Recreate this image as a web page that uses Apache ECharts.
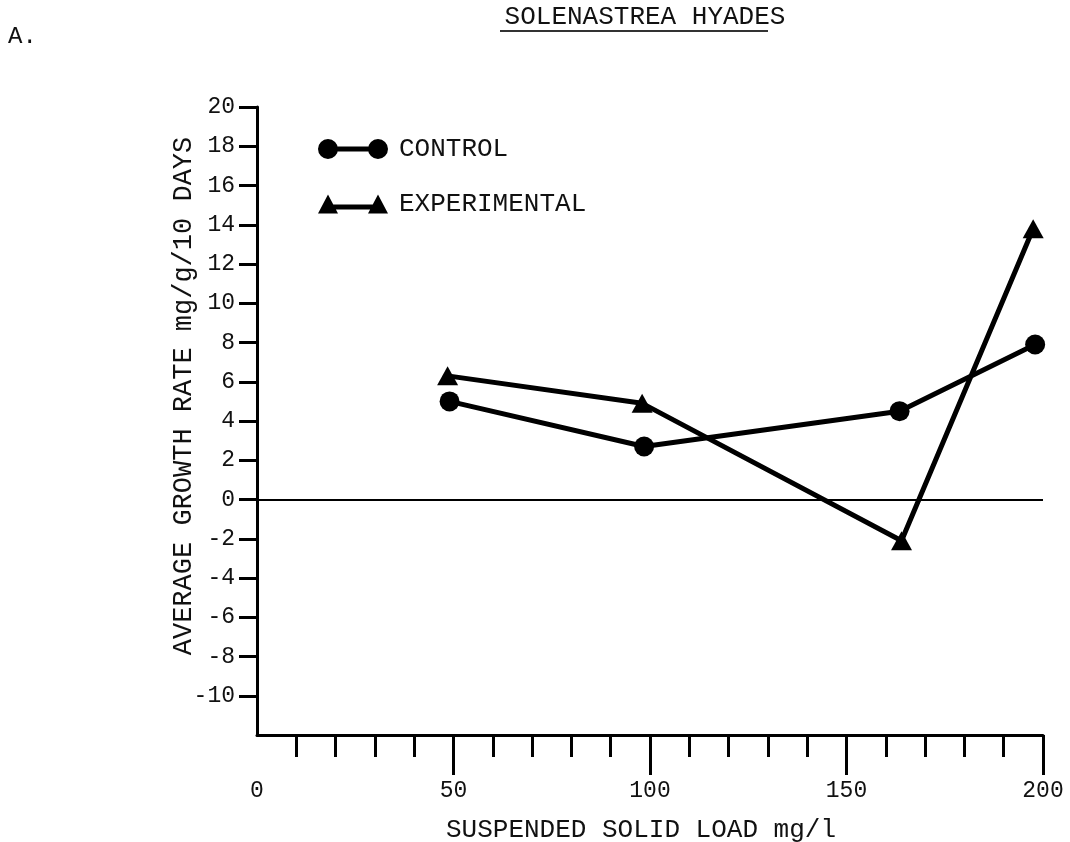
<!DOCTYPE html>
<html>
<head>
<meta charset="utf-8">
<script src="https://cdn.jsdelivr.net/npm/echarts@6/dist/echarts.min.js"></script>
<style>
  html, body { margin: 0; padding: 0; background: #fff; }
  #chart { width: 1070px; height: 842px; }
</style>
</head>
<body>
<div id="chart"></div>
<script>
// Suspended solid load (mg/l) and average growth rate (mg/g/10 days)
const controlLoad = [49, 98.5, 163.5, 198];
const controlGrowth = [5.0, 2.7, 4.5, 7.9];
const experimentalLoad = [48.5, 98, 164, 197.5];
const experimentalGrowth = [6.3, 4.9, -2.1, 13.8];

const xMajorTicks = [50, 100, 150, 200];
const xTickLabels = [0, 50, 100, 150, 200];
const yTickLabels = [-10, -8, -6, -4, -2, 0, 2, 4, 6, 8, 10, 12, 14, 16, 18, 20];

const FONT = '"Liberation Mono", "DejaVu Sans Mono", monospace';
const INK = '#111';

// legend icons: a bar with a marker at each end
const circleBarIcon = 'path://M0,10 A10,10 0 1,1 20,10 A10,10 0 1,1 0,10 Z M50,10 A10,10 0 1,1 70,10 A10,10 0 1,1 50,10 Z M10,7.5 L60,7.5 L60,12.5 L10,12.5 Z';
const triangleBarIcon = 'path://M0,20 L10,1 L20,20 Z M50,20 L60,1 L70,20 Z M10,11 L60,11 L60,16 L10,16 Z';

const chart = echarts.init(document.getElementById('chart'), null, { renderer: 'canvas' });

chart.setOption({
  backgroundColor: '#fff',
  animation: false,
  textStyle: { fontFamily: FONT, color: INK },
  grid: { left: 257, right: 27, top: 107, bottom: 107, outerBoundsMode: 'none' },
  graphic: [
    { type: 'text', left: 8, top: 25,
      style: { text: 'A.', font: '24px ' + FONT, fill: INK } },
    { type: 'text', x: 645, y: 17,
      style: { text: 'SOLENASTREA HYADES', font: '26px ' + FONT, fill: INK,
               textAlign: 'center', textVerticalAlign: 'middle' } },
    { type: 'line', shape: { x1: 500, y1: 31, x2: 768, y2: 31 },
      style: { stroke: '#333', lineWidth: 2 } }
  ],
  legend: {
    orient: 'vertical',
    left: 318,
    top: 136,
    padding: 0,
    itemWidth: 70,
    itemHeight: 20,
    itemGap: 29,
    selectedMode: false,
    textStyle: { fontFamily: FONT, fontSize: 26, color: INK, padding: [0, 0, 0, 6] },
    data: [
      { name: 'CONTROL', icon: circleBarIcon },
      { name: 'EXPERIMENTAL', icon: triangleBarIcon }
    ]
  },
  xAxis: {
    type: 'value',
    min: 0,
    max: 200,
    interval: 50,
    name: 'SUSPENDED SOLID LOAD mg/l',
    nameLocation: 'middle',
    nameGap: 82,
    nameMoveOverlap: false,
    nameTextStyle: { fontFamily: FONT, fontSize: 26, color: INK, padding: [0, 18, 0, 0] },
    axisLine: { show: true, onZero: false, lineStyle: { color: '#000', width: 3 } },
    axisTick: { show: true, customValues: xMajorTicks, length: 40, lineStyle: { color: '#000', width: 3 } },
    minorTick: { show: true, splitNumber: 5, length: 22, lineStyle: { color: '#000', width: 3 } },
    axisLabel: { customValues: xTickLabels, margin: 44, fontFamily: FONT, fontSize: 23, color: INK },
    splitLine: { show: false },
    minorSplitLine: { show: false }
  },
  yAxis: {
    type: 'value',
    min: -12,
    max: 20,
    interval: 2,
    name: 'AVERAGE GROWTH RATE mg/g/10 DAYS',
    nameLocation: 'middle',
    nameGap: 60,
    nameMoveOverlap: false,
    nameTextStyle: { fontFamily: FONT, fontSize: 27, color: INK, padding: [0, 0, 0, 50] },
    axisLine: { show: true, onZero: false, lineStyle: { color: '#000', width: 3 } },
    axisTick: { show: true, customValues: yTickLabels, length: 18, lineStyle: { color: '#000', width: 3 } },
    axisLabel: { customValues: yTickLabels, margin: 22, fontFamily: FONT, fontSize: 23, color: INK },
    splitLine: { show: false }
  },
  series: [
    {
      name: 'CONTROL',
      type: 'line',
      data: controlLoad.map((x, i) => [x, controlGrowth[i]]),
      symbol: 'circle',
      symbolSize: 20,
      color: '#000',
      itemStyle: { color: '#000' },
      lineStyle: { color: '#000', width: 5 },
      z: 3,
      markLine: {
        silent: true,
        symbol: 'none',
        label: { show: false },
        lineStyle: { color: '#000', width: 2, type: 'solid' },
        data: [{ yAxis: 0 }]
      }
    },
    {
      name: 'EXPERIMENTAL',
      type: 'line',
      data: experimentalLoad.map((x, i) => [x, experimentalGrowth[i]]),
      symbol: 'triangle',
      symbolSize: [21, 19],
      color: '#000',
      itemStyle: { color: '#000' },
      lineStyle: { color: '#000', width: 5 },
      z: 3
    }
  ]
});
</script>
</body>
</html>
